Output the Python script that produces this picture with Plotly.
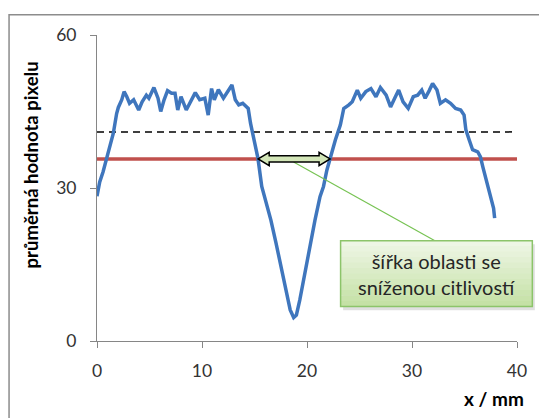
import plotly.graph_objects as go

# Profile of mean pixel value across the detector (x in mm)
x_mm = [0.0, 0.26, 0.58, 0.9, 1.23, 1.55, 1.87, 2.03, 2.36, 2.58, 2.84, 3.1, 3.49, 3.97,
        4.3, 4.7, 4.94, 5.42, 5.81, 6.07, 6.39, 6.72, 7.1, 7.43, 7.69, 8.0, 8.5, 8.98,
        9.36, 9.78, 10.27, 10.59, 10.91, 11.17, 11.56, 12.04, 12.46, 12.85, 13.17, 13.5,
        13.88, 14.4, 14.62, 14.94, 15.33, 15.69, 16.08, 16.56, 17.05, 17.53, 18.02, 18.4,
        18.73, 18.99, 19.31, 19.79, 20.28, 20.76, 21.24, 21.57, 21.89, 22.21, 22.7, 23.18,
        23.5, 23.99, 24.31, 24.79, 25.12, 25.6, 26.09, 26.57, 26.99, 27.54, 27.96, 28.35,
        28.73, 29.15, 29.64, 30.12, 30.54, 30.93, 31.25, 31.64, 31.96, 32.38, 32.7, 33.19,
        33.67, 34.15, 34.64, 34.96, 35.13, 35.45, 35.77, 36.26, 36.52, 36.74, 37.06, 37.32,
        37.55, 37.77, 37.87]
pixel_mean = [28.4, 31.2, 33.2, 35.5, 38.1, 40.7, 44.6, 45.8, 47.3, 48.9, 47.9, 46.6, 47.3, 45.3,
              46.9, 48.2, 47.6, 49.7, 47.6, 45.0, 47.3, 49.1, 48.6, 48.6, 45.3, 47.9, 45.3, 47.3,
              48.7, 47.3, 47.6, 44.3, 49.5, 47.3, 49.3, 47.6, 48.9, 50.2, 47.3, 46.3,
              46.6, 45.6, 42.7, 39.4, 35.8, 30.3, 27.6, 23.7, 19.2, 14.6, 9.3, 6.1,
              4.6, 5.1, 8.0, 13.3, 17.8, 23.7, 28.3, 30.3, 33.5, 36.1, 39.4, 42.4,
              45.6, 46.3, 46.9, 49.2, 47.6, 48.9, 49.5, 47.9, 49.7, 48.2, 45.9, 47.6,
              49.2, 46.9, 45.6, 47.9, 48.2, 49.2, 47.6, 49.1, 50.5, 49.2, 46.6, 47.3,
              46.6, 45.6, 45.3, 44.3, 41.4, 39.4, 37.5, 37.1, 36.1, 34.2, 31.6, 29.6,
              27.3, 26.0, 24.1]

# Reference levels across the full x range
level_x = [0, 40]
reduced_level = 35.7   # red line
upper_level = 41.0     # dashed line

# Width of the reduced-sensitivity region (arrow ends)
region_start, region_end = 15.35, 22.2

x_ticks = [0, 10, 20, 30, 40]
y_ticks = [0, 30, 60]

BLUE = "#3f76bd"
RED = "#c0504d"
AXIS = "#868686"
FONT = "Lato, 'Open Sans', sans-serif"

fig = go.Figure()
fig.add_trace(go.Scatter(x=level_x, y=[upper_level, upper_level], mode="lines",
                         line=dict(color="black", width=1.5, dash="7px,5px"),
                         hoverinfo="skip"))
fig.add_trace(go.Scatter(x=level_x, y=[reduced_level, reduced_level], mode="lines",
                         line=dict(color=RED, width=3.5), hoverinfo="skip"))
fig.add_trace(go.Scatter(x=x_mm, y=pixel_mean, mode="lines",
                         line=dict(color=BLUE, width=3.5)))

shapes = []
# outer chart frame
shapes.append(dict(type="rect", xref="paper", yref="paper",
                   x0=-0.2094, x1=1.2, y0=-0.4, y1=1.0662,
                   line=dict(color="#8c8c8c", width=1.5), layer="below"))

# callout leader line from the arrow to the label box
mid = (region_start + region_end) / 2
shapes.append(dict(type="line", xref="x", yref="y",
                   x0=mid - 0.05, y0=reduced_level - 0.6, x1=32.18, y1=19.67,
                   line=dict(color="#77c353", width=1.2)))

# double-headed arrow spanning the region
hl, hh, bh = 1.05, 1.3, 0.62
yc = reduced_level
a, b = region_start, region_end
path = (f"M {a},{yc} L {a+hl},{yc+hh} L {a+hl},{yc+bh} L {b-hl},{yc+bh} "
        f"L {b-hl},{yc+hh} L {b},{yc} L {b-hl},{yc-hh} L {b-hl},{yc-bh} "
        f"L {a+hl},{yc-bh} L {a+hl},{yc-hh} Z")
shapes.append(dict(type="path", xref="x", yref="y", path=path,
                   fillcolor="#d3e6b8", line=dict(color="black", width=1.5)))

# label box: soft shadow, vertical green gradient in bands, border
bx0, bx1, by0, by1 = 0.58, 1.0365, 0.1126, 0.328
shapes.append(dict(type="rect", xref="paper", yref="paper",
                   x0=bx0 + 0.006, x1=bx1 + 0.006, y0=by0 - 0.012, y1=by1 - 0.012,
                   fillcolor="rgba(0,0,0,0.12)", line=dict(width=0)))
n_bands = 12
top_rgb, bot_rgb = (238, 246, 229), (197, 225, 166)
for i in range(n_bands):
    t = i / (n_bands - 1)
    r = round(top_rgb[0] + (bot_rgb[0] - top_rgb[0]) * t)
    g = round(top_rgb[1] + (bot_rgb[1] - top_rgb[1]) * t)
    bl = round(top_rgb[2] + (bot_rgb[2] - top_rgb[2]) * t)
    h = (by1 - by0) / n_bands
    shapes.append(dict(type="rect", xref="paper", yref="paper",
                       x0=bx0, x1=bx1, y0=by1 - (i + 1) * h - 0.001, y1=by1 - i * h,
                       fillcolor=f"rgb({r},{g},{bl})", line=dict(width=0)))
shapes.append(dict(type="rect", xref="paper", yref="paper",
                   x0=bx0, x1=bx1, y0=by0, y1=by1,
                   line=dict(color="#8cc46a", width=1.5)))

annotations = [
    dict(text="šířka oblasti se<br>sníženou citlivostí", xref="paper", yref="paper",
         x=(bx0 + bx1) / 2, y=(by0 + by1) / 2, xanchor="center", yanchor="middle",
         showarrow=False, font=dict(family=FONT, size=20, color="#262626"), align="center"),
    dict(text="<b>průměrná hodnota pixelu</b>", xref="paper", yref="paper",
         x=-0.158, y=0.576, xanchor="center", yanchor="middle", textangle=-90,
         showarrow=False, font=dict(family=FONT, size=18.5, color="black")),
    dict(text="<b>x / mm</b>", xref="paper", yref="paper",
         x=1.022, y=-0.1876, xanchor="right", yanchor="middle", showarrow=False,
         font=dict(family=FONT, size=19, color="black")),
]

fig.update_layout(
    width=539, height=418,
    margin=dict(l=97, r=17, t=35, b=76.5),
    paper_bgcolor="white", plot_bgcolor="white",
    showlegend=False,
    shapes=shapes, annotations=annotations,
    xaxis=dict(range=[0, 40], tickvals=x_ticks, showgrid=False, zeroline=False,
               showline=True, linecolor=AXIS, linewidth=1,
               ticks="outside", ticklen=6, tickcolor=AXIS, ticklabelstandoff=8,
               tickfont=dict(family=FONT, size=17.5, color="#333333")),
    yaxis=dict(range=[0, 60], tickvals=y_ticks, showgrid=False, zeroline=False,
               showline=True, linecolor=AXIS, linewidth=1,
               ticks="outside", ticklen=6, tickcolor=AXIS, ticklabelstandoff=10,
               tickfont=dict(family=FONT, size=17.5, color="#333333")),
)

fig.write_html("out.html")
